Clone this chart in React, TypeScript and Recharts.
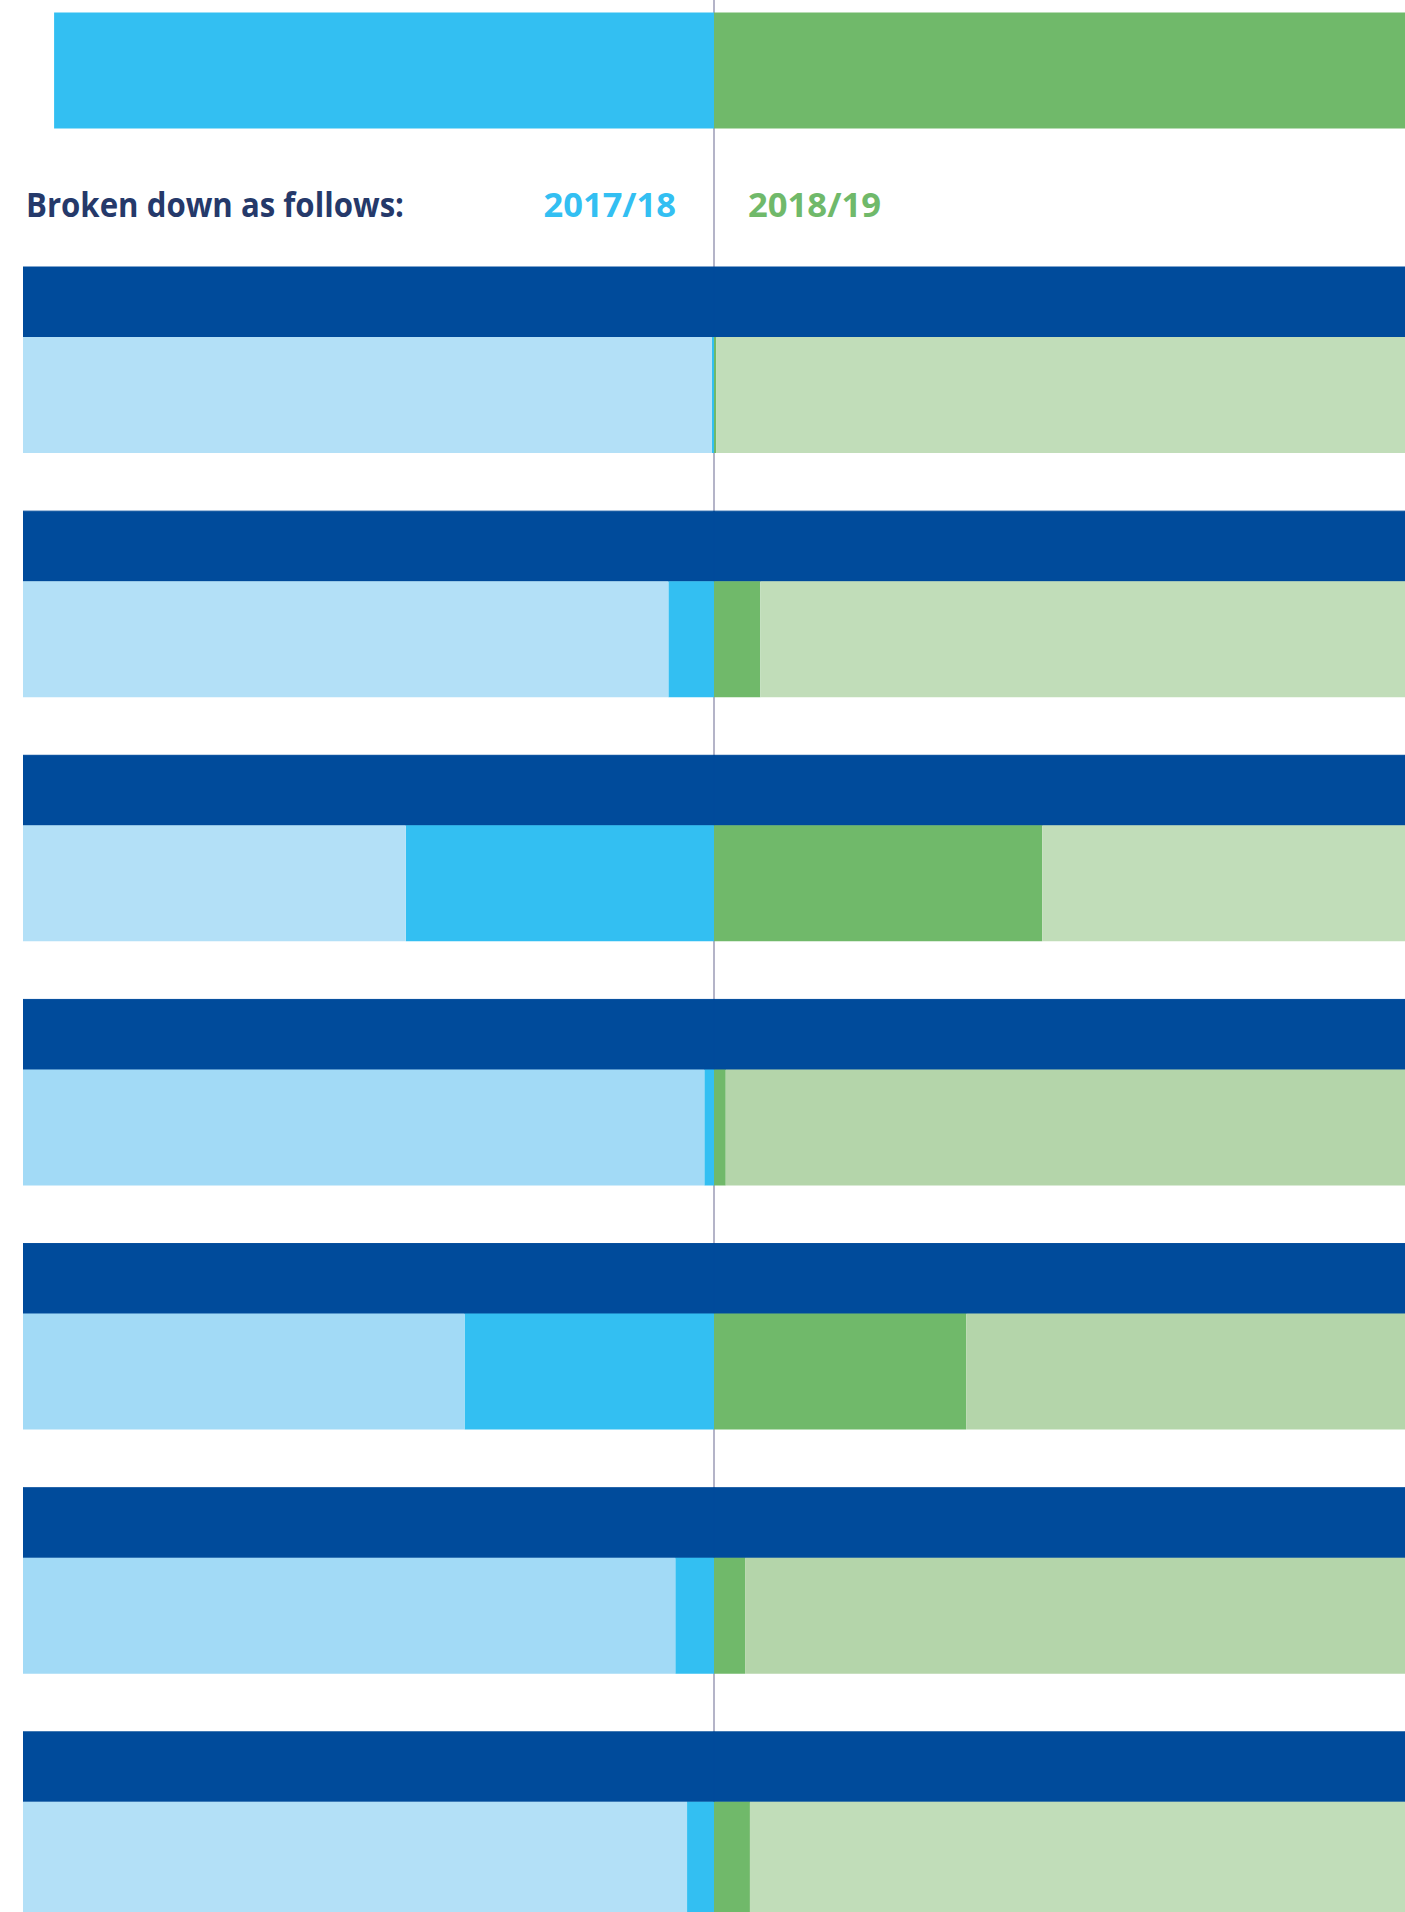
import React from "react";
import { BarChart, Bar, XAxis, YAxis, CartesianGrid, Cell } from "recharts";

// Overall totals (share of the half-width scale, 2017/18 to the left, 2018/19 to the right)
const totalCategory = ["Total"];
const totalBlue = [95.5];
const totalGreen = [100];

// Breakdown rows
const categories = ["1", "2", "3", "4", "5", "6", "7"];
const values1718 = [0.3, 6.6, 44.6, 1.4, 36.1, 5.6, 3.9];
const values1819 = [0.3, 6.7, 47.5, 1.7, 36.5, 4.5, 5.2];
const SCALE_MAX = 100;

const W = 1405;
const H = 1912;
const TOP_H = 238;

const NAVY = "#004b9b";
const BLUE = "#33bff2";
const GREEN = "#70b96a";
const LINE = "#b4b4c8";
const paleBlueFill = ["#b3e0f7", "#b3e0f7", "#b3e0f7", "#a2daf6", "#a2daf6", "#a2daf6", "#b3e0f7"];
const paleGreenFill = ["#c1ddb9", "#c1ddb9", "#c1ddb9", "#b4d5aa", "#b4d5aa", "#b4d5aa", "#c1ddb9"];

const totalData = totalCategory.map((name, i) => ({
  name,
  blue: -totalBlue[i],
  green: totalGreen[i],
}));

const rowData = categories.map((name, i) => ({
  name,
  bandLeft: -SCALE_MAX,
  bandRight: SCALE_MAX,
  blue: -values1718[i],
  paleBlue: -(SCALE_MAX - values1718[i]),
  green: values1819[i],
  paleGreen: SCALE_MAX - values1819[i],
}));

const font = "'Open Sans', 'DejaVu Sans', sans-serif";
const chartMargin = { top: 0, right: 0, bottom: 0, left: 23 };

export default function App() {
  return (
    <div
      style={{
        position: "absolute",
        left: 0,
        top: 0,
        width: W,
        height: H,
        overflow: "hidden",
        background: "#ffffff",
      }}
    >
      <div style={{ position: "absolute", left: 0, top: 0 }}>
        <BarChart
          width={W}
          height={TOP_H}
          data={totalData}
          layout="vertical"
          stackOffset="sign"
          barGap={0}
          barCategoryGap={0}
          margin={chartMargin}
        >
          <CartesianGrid
            horizontal={false}
            verticalValues={[0]}
            stroke={LINE}
            strokeWidth={2}
          />
          <XAxis type="number" domain={[-SCALE_MAX, SCALE_MAX]} ticks={[0]} allowDataOverflow hide />
          <YAxis type="category" dataKey="name" hide padding={{ top: 11.5, bottom: 109.5 }} />
          <Bar dataKey="blue" stackId="t" fill={BLUE} barSize={116} isAnimationActive={false} />
          <Bar dataKey="green" stackId="t" fill={GREEN} barSize={116} isAnimationActive={false} />
        </BarChart>
      </div>

      <svg
        width={W}
        height={TOP_H}
        style={{ position: "absolute", left: 0, top: 0, pointerEvents: "none" }}
      >
        <text
          x={26}
          y={217}
          fontFamily={font}
          fontWeight={700}
          fontSize={34}
          fill="#25396a"
          textLength={378}
          lengthAdjust="spacingAndGlyphs"
        >
          Broken down as follows:
        </text>
        <text
          x={543.5}
          y={217}
          fontFamily={font}
          fontWeight={700}
          fontSize={34}
          fill={BLUE}
          textLength={132.5}
          lengthAdjust="spacingAndGlyphs"
        >
          2017/18
        </text>
        <text
          x={748}
          y={217}
          fontFamily={font}
          fontWeight={700}
          fontSize={34}
          fill={GREEN}
          textLength={133}
          lengthAdjust="spacingAndGlyphs"
        >
          2018/19
        </text>
      </svg>

      <div style={{ position: "absolute", left: 0, top: TOP_H }}>
        <BarChart
          width={W}
          height={1709}
          data={rowData}
          layout="vertical"
          stackOffset="sign"
          barGap={0}
          barCategoryGap={0}
          margin={chartMargin}
        >
          <CartesianGrid
            horizontal={false}
            verticalValues={[0]}
            stroke={LINE}
            strokeWidth={2}
          />
          <XAxis type="number" domain={[-SCALE_MAX, SCALE_MAX]} ticks={[0]} allowDataOverflow hide />
          <YAxis type="category" dataKey="name" hide />
          {/* header band of each row */}
          <Bar dataKey="bandLeft" stackId="band" fill={NAVY} stroke={NAVY} strokeWidth={1} barSize={70} isAnimationActive={false} />
          <Bar dataKey="bandRight" stackId="band" fill={NAVY} stroke={NAVY} strokeWidth={1} barSize={70} isAnimationActive={false} />
          {/* split bar: 2017/18 to the left, 2018/19 to the right */}
          <Bar dataKey="blue" stackId="split" fill={BLUE} barSize={116} isAnimationActive={false} />
          <Bar dataKey="paleBlue" stackId="split" barSize={116} isAnimationActive={false}>
            {rowData.map((_, i) => (
              <Cell key={`pb-${i}`} fill={paleBlueFill[i]} />
            ))}
          </Bar>
          <Bar dataKey="green" stackId="split" fill={GREEN} barSize={116} isAnimationActive={false} />
          <Bar dataKey="paleGreen" stackId="split" barSize={116} isAnimationActive={false}>
            {rowData.map((_, i) => (
              <Cell key={`pg-${i}`} fill={paleGreenFill[i]} />
            ))}
          </Bar>
        </BarChart>
      </div>
    </div>
  );
}
